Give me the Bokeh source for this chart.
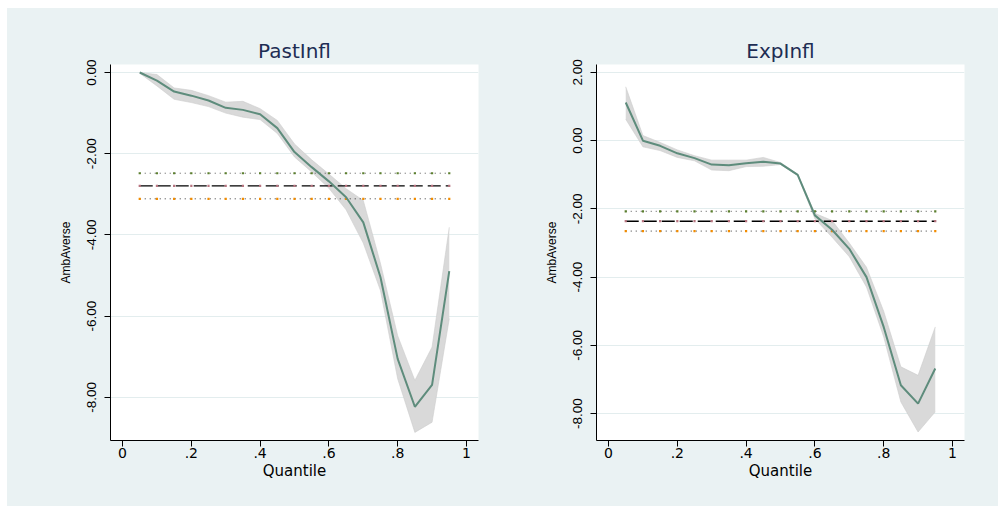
from bokeh.plotting import figure
from bokeh.layouts import row
from bokeh.models import FixedTicker
from bokeh.embed import file_html
from bokeh.resources import INLINE

# ---------------- data ----------------
quantile = [0.05, 0.10, 0.15, 0.20, 0.25, 0.30, 0.35, 0.40, 0.45, 0.50,
            0.55, 0.60, 0.65, 0.70, 0.75, 0.80, 0.85, 0.90, 0.95]

past_coef = [0.00, -0.20, -0.47, -0.57, -0.69, -0.87, -0.92, -1.03, -1.37, -1.96,
             -2.33, -2.68, -3.07, -3.69, -5.04, -7.05, -8.23, -7.69, -4.89]
past_lo = [-0.02, -0.33, -0.66, -0.74, -0.84, -1.00, -1.10, -1.16, -1.50, -2.08,
           -2.45, -2.85, -3.38, -4.20, -5.37, -7.54, -8.86, -8.61, -6.06]
past_hi = [0.00, -0.05, -0.38, -0.44, -0.57, -0.73, -0.71, -0.89, -1.18, -1.76,
           -2.15, -2.50, -2.86, -3.15, -4.70, -6.48, -7.58, -6.76, -3.81]

exp_coef = [1.12, 0.00, -0.15, -0.37, -0.51, -0.70, -0.72, -0.66, -0.62, -0.67,
            -1.00, -2.19, -2.61, -3.17, -4.00, -5.46, -7.17, -7.71, -6.68]
exp_lo = [0.63, -0.18, -0.29, -0.49, -0.59, -0.86, -0.88, -0.76, -0.75, -0.70,
          -1.02, -2.29, -2.83, -3.40, -4.29, -5.75, -7.66, -8.54, -7.95]
exp_hi = [1.58, 0.15, -0.05, -0.27, -0.44, -0.57, -0.57, -0.57, -0.49, -0.64,
          -0.98, -2.13, -2.34, -3.00, -3.71, -5.00, -6.63, -6.88, -5.46]

# OLS-type reference lines (upper, estimate, lower)
past_ref = {"hi": -2.48, "mid": -2.79, "lo": -3.11}
exp_ref = {"hi": -2.07, "mid": -2.36, "lo": -2.65}

x_ticks = [0, 0.2, 0.4, 0.6, 0.8, 1.0]
x_tick_labels = ["0", ".2", ".4", ".6", ".8", "1"]
past_y_ticks = [0, -2, -4, -6, -8]
past_y_labels = ["0.00", "-2.00", "-4.00", "-6.00", "-8.00"]
exp_y_ticks = [2, 0, -2, -4, -6, -8]
exp_y_labels = ["2.00", "0.00", "-2.00", "-4.00", "-6.00", "-8.00"]

titles = ["PastInfl", "ExpInfl"]

# ---------------- style ----------------
BG = "#EAF2F3"
LINE = "#5E8C7C"
BAND = "#D9D9D9"
TITLE_C = "#1E2D53"


def make_panel(title, coef, lo, hi, ref, y_ticks, y_labels, y_range,
               left_border, right_border):
    p = figure(frame_width=368, frame_height=376,
               x_range=(-0.035, 1.035), y_range=y_range,
               output_backend="svg", toolbar_location=None,
               min_border_left=left_border, min_border_right=right_border,
               min_border_top=56, min_border_bottom=66,
               background_fill_color="white", border_fill_color=BG,
               outline_line_color=None)
    p.title.text = title
    p.title.align = "center"
    p.title.text_font = "DejaVu Sans"
    p.title.text_font_size = "20px"
    p.title.text_font_style = "normal"
    p.title.text_color = TITLE_C
    p.title.standoff = 4

    # band and line
    p.varea(x=quantile, y1=lo, y2=hi, fill_color=BAND, fill_alpha=1.0)
    p.line(quantile, lo, line_color="#CDCDCD", line_width=0.6)
    p.line(quantile, hi, line_color="#CDCDCD", line_width=0.6)

    n = len(quantile)
    hi_line = [ref["hi"]] * n
    mid_line = [ref["mid"]] * n
    lo_line = [ref["lo"]] * n
    p.line(quantile, hi_line, line_color="#555555", line_width=1, line_dash="1 4")
    p.scatter(quantile, hi_line, marker="square", size=2.2, color="#5B7F2E",
              line_width=0)
    p.line(quantile, mid_line, line_color="black", line_width=1.4, line_dash="13 5")
    p.scatter(quantile, mid_line, marker="square", size=2.2, color="#B87580",
              line_width=0)
    p.line(quantile, lo_line, line_color="#333333", line_width=1, line_dash="1 4")
    p.scatter(quantile, lo_line, marker="square", size=2.2, color="#F28C00",
              line_width=0)

    p.line(quantile, coef, line_color=LINE, line_width=2)

    # axes
    p.xaxis.ticker = FixedTicker(ticks=x_ticks)
    p.xaxis.major_label_overrides = {t: l for t, l in zip(x_ticks, x_tick_labels)}
    p.yaxis.ticker = FixedTicker(ticks=y_ticks)
    p.yaxis.major_label_overrides = {t: l for t, l in zip(y_ticks, y_labels)}
    p.yaxis.major_label_orientation = "vertical"
    for ax in (p.xaxis[0], p.yaxis[0]):
        ax.axis_line_color = "black"
        ax.major_tick_line_color = "black"
        ax.major_tick_out = 6
        ax.major_tick_in = 0
        ax.minor_tick_line_color = None
        ax.major_label_text_color = "black"
        ax.axis_label_text_color = "black"
        ax.axis_label_text_font_style = "normal"
    p.xaxis.axis_label = "Quantile"
    p.xaxis.axis_label_text_font = "DejaVu Sans"
    p.xaxis.axis_label_text_font_size = "15px"
    p.xaxis.major_label_text_font = "DejaVu Sans"
    p.xaxis.major_label_text_font_size = "14px"
    p.xaxis.major_label_standoff = 1
    p.xaxis.axis_label_standoff = 1
    p.yaxis.axis_label = "AmbAverse"
    p.yaxis.axis_label_text_font = "Liberation Sans"
    p.yaxis.axis_label_text_font_size = "12px"
    p.yaxis.major_label_text_font = "Liberation Sans"
    p.yaxis.major_label_text_font_size = "13.5px"
    p.yaxis.major_label_standoff = 8
    p.yaxis.axis_label_standoff = 12

    p.xgrid.grid_line_color = None
    p.ygrid.ticker = FixedTicker(ticks=y_ticks)
    p.ygrid.grid_line_color = "#E3EDEE"
    p.ygrid.grid_line_width = 1
    return p


p1 = make_panel(titles[0], past_coef, past_lo, past_hi, past_ref,
                past_y_ticks, past_y_labels, (-9.06, 0.197), 103, 22)
p2 = make_panel(titles[1], exp_coef, exp_lo, exp_hi, exp_ref,
                exp_y_ticks, exp_y_labels, (-8.79, 2.234), 96, 34)

layout = row(p1, p2, margin=(8, 0, 0, 7), spacing=0,
             styles={"background-color": BG})

open("out.html", "w").write(file_html(layout, INLINE))
